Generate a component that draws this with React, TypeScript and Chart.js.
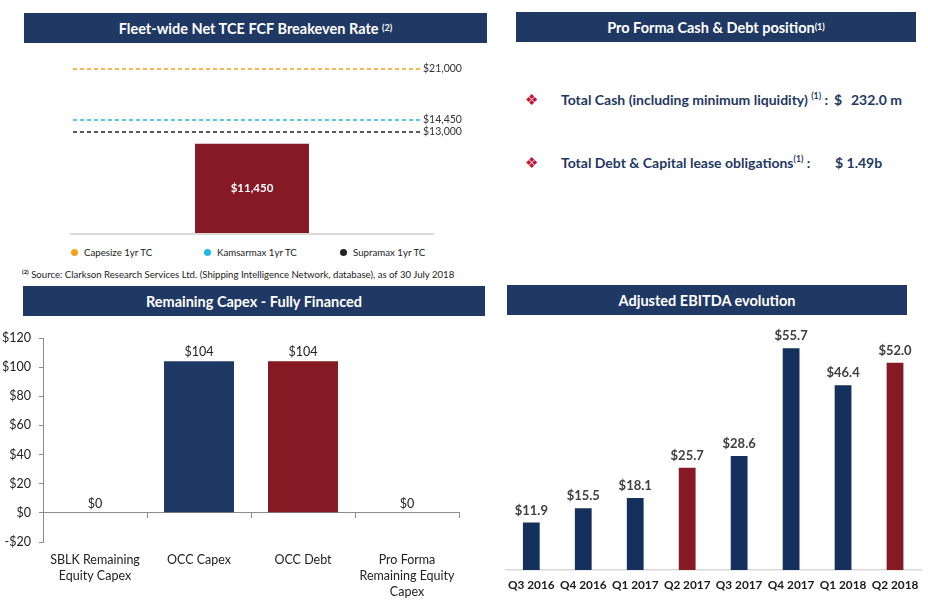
import React, { useEffect, useRef } from "react";
import { Chart, registerables } from "chart.js";

Chart.register(...registerables);

const FONT = "Lato, 'Open Sans', sans-serif";
const NAVY = "#1F3864";
const NAVY_BAR = "#14305C";
const RED = "#861A24";

// ---- Fleet-wide breakeven panel ----
const breakevenCategories = ["Fleet-wide"];
const breakevenValues = [11450];
const benchmarkNames = ["Capesize 1yr TC", "Kamsarmax 1yr TC", "Supramax 1yr TC"];
const benchmarkValues = [21000, 14450, 13000];
const benchmarkColors = ["#F7A01A", "#22B7EA", "#222222"];

// ---- Remaining Capex panel ----
const capexCategories = [
  ["SBLK Remaining", "Equity Capex"],
  "OCC Capex",
  "OCC Debt",
  ["Pro Forma", "Remaining Equity", "Capex"],
];
const capexValues = [0, 104, 104, 0];
const capexColors = [NAVY, NAVY, RED, NAVY];

// ---- Adjusted EBITDA panel ----
const ebitdaQuarters = ["Q3 2016", "Q4 2016", "Q1 2017", "Q2 2017", "Q3 2017", "Q4 2017", "Q1 2018", "Q2 2018"];
const ebitdaValues = [11.9, 15.5, 18.1, 25.7, 28.6, 55.7, 46.4, 52.0];
const ebitdaHighlight = [false, false, false, true, false, false, false, true];

function ChartBox({ left, top, width, height, makeConfig }: any) {
  const ref = useRef<HTMLCanvasElement | null>(null);
  useEffect(() => {
    if (!ref.current) return;
    const chart = new Chart(ref.current, makeConfig());
    return () => chart.destroy();
  }, []);
  return (
    <div style={{ position: "absolute", left, top, width, height }}>
      <canvas ref={ref} width={width} height={height} style={{ width, height, display: "block" }} />
    </div>
  );
}

const breakevenPlugin = {
  id: "breakevenLines",
  afterDatasetsDraw(chart: any) {
    const { ctx, chartArea, scales } = chart;
    const y0 = scales.y.getPixelForValue(0);
    ctx.save();
    ctx.strokeStyle = "#D9D9D9";
    ctx.lineWidth = 2;
    ctx.beginPath();
    ctx.moveTo(chartArea.left, y0 + 1);
    ctx.lineTo(chartArea.right, y0 + 1);
    ctx.stroke();
    benchmarkValues.forEach((v, i) => {
      const y = Math.round(scales.y.getPixelForValue(v));
      ctx.setLineDash([4, 3]);
      ctx.strokeStyle = benchmarkColors[i];
      ctx.lineWidth = 1.5;
      ctx.beginPath();
      ctx.moveTo(chartArea.left + 3, y);
      ctx.lineTo(chartArea.right - 14, y);
      ctx.stroke();
      ctx.setLineDash([]);
      ctx.fillStyle = "#333333";
      ctx.font = `10.5px ${FONT}`;
      ctx.textAlign = "left";
      ctx.textBaseline = "middle";
      ctx.fillText("$" + v.toLocaleString("en-US"), chartArea.right - 11, y);
    });
    const meta = chart.getDatasetMeta(0);
    meta.data.forEach((bar: any, i: number) => {
      ctx.fillStyle = "#FFFFFF";
      ctx.font = `bold 11.5px ${FONT}`;
      ctx.textAlign = "center";
      ctx.textBaseline = "middle";
      ctx.fillText("$" + breakevenValues[i].toLocaleString("en-US"), bar.x, (bar.y + bar.base) / 2);
    });
    ctx.restore();
  },
};

const capexLabelPlugin = {
  id: "capexLabels",
  afterDatasetsDraw(chart: any) {
    const { ctx } = chart;
    const meta = chart.getDatasetMeta(0);
    ctx.save();
    ctx.fillStyle = "#222222";
    ctx.font = `12.5px ${FONT}`;
    ctx.textAlign = "center";
    ctx.textBaseline = "bottom";
    meta.data.forEach((bar: any, i: number) => {
      ctx.fillText("$" + capexValues[i], bar.x, bar.y - 3);
    });
    ctx.restore();
  },
};

const ebitdaLabelPlugin = {
  id: "ebitdaLabels",
  afterDatasetsDraw(chart: any) {
    const { ctx } = chart;
    const meta = chart.getDatasetMeta(0);
    ctx.save();
    ctx.fillStyle = "#404040";
    ctx.font = `bold 13px ${FONT}`;
    ctx.textAlign = "center";
    ctx.textBaseline = "middle";
    meta.data.forEach((bar: any, i: number) => {
      ctx.fillText("$" + ebitdaValues[i].toFixed(1), bar.x, bar.y - 12);
    });
    ctx.restore();
  },
};

function breakevenConfig(): any {
  return {
    type: "bar",
    data: {
      labels: breakevenCategories,
      datasets: [
        {
          data: breakevenValues,
          backgroundColor: RED,
          barPercentage: 0.313,
          categoryPercentage: 1,
        },
      ],
    },
    options: {
      animation: false,
      responsive: false,
      layout: { padding: { left: 46, right: 53, top: 6, bottom: 7 } },
      plugins: { legend: { display: false }, tooltip: { enabled: false } },
      scales: {
        x: { display: false },
        y: { display: false, min: 0, max: 24000 },
      },
    },
    plugins: [breakevenPlugin],
  };
}

function capexConfig(): any {
  return {
    type: "bar",
    data: {
      labels: capexCategories,
      datasets: [
        {
          data: capexValues,
          backgroundColor: capexColors,
          barPercentage: 0.673,
          categoryPercentage: 1,
          xAxisID: "x",
          yAxisID: "y",
        },
      ],
    },
    options: {
      animation: false,
      responsive: false,
      layout: { padding: { left: 0, right: 16, top: 18, bottom: 0 } },
      plugins: { legend: { display: false }, tooltip: { enabled: false } },
      scales: {
        x: {
          type: "category",
          position: "bottom",
          grid: { display: false, drawTicks: false },
          border: { display: false },
          ticks: {
            color: "#222222",
            font: { family: FONT, size: 12.5, lineHeight: 1.28 },
            padding: 10,
            maxRotation: 0,
            autoSkip: false,
          },
          afterFit: (s: any) => {
            s.height = 65;
          },
        },
        x2: {
          type: "category",
          position: { y: 0 },
          grid: { offset: true, drawOnChartArea: false, drawTicks: true, tickLength: 5, color: "#8C8C8C" },
          border: { display: true, color: "#8C8C8C" },
          ticks: { display: false },
        },
        y: {
          min: -20,
          max: 120,
          grid: { drawOnChartArea: false, drawTicks: true, tickLength: 4, color: "#8C8C8C" },
          border: { display: true, color: "#8C8C8C" },
          ticks: {
            stepSize: 20,
            padding: 8,
            color: "#222222",
            font: { family: FONT, size: 12.5 },
            callback: (v: any) => (v < 0 ? "-$" + Math.abs(v) : "$" + v),
          },
          afterFit: (s: any) => {
            s.width = 43;
          },
        },
      },
    },
    plugins: [capexLabelPlugin],
  };
}

function ebitdaConfig(): any {
  return {
    type: "bar",
    data: {
      labels: ebitdaQuarters,
      datasets: [
        {
          data: ebitdaValues,
          backgroundColor: ebitdaHighlight.map((h) => (h ? RED : NAVY_BAR)),
          barPercentage: 0.323,
          categoryPercentage: 1,
        },
      ],
    },
    options: {
      animation: false,
      responsive: false,
      layout: { padding: { left: 0, right: 7, top: 11, bottom: 0 } },
      plugins: { legend: { display: false }, tooltip: { enabled: false } },
      scales: {
        x: {
          grid: { display: false, drawTicks: false },
          border: { display: true, color: "#D9D9D9", width: 1.5 },
          ticks: {
            color: "#1A1A1A",
            font: { family: FONT, size: 11.8, weight: "bold" },
            padding: 8,
            maxRotation: 0,
            autoSkip: false,
          },
          afterFit: (s: any) => {
            s.height = 37;
          },
        },
        y: { display: false, min: 0, max: 60 },
      },
    },
    plugins: [ebitdaLabelPlugin],
  };
}

function Header({ left, top, width, height, children }: any) {
  return (
    <div
      style={{
        position: "absolute",
        left,
        top,
        width,
        height,
        background: NAVY,
        color: "#FFFFFF",
        fontWeight: 700,
        fontSize: 14.5,
        display: "flex",
        alignItems: "center",
        justifyContent: "center",
        whiteSpace: "nowrap",
      }}
    >
      {children}
    </div>
  );
}

const sup: any = { fontSize: "0.62em", verticalAlign: "super", lineHeight: 0 };
const bullet: any = { position: "absolute", left: 525, color: "#C0143C", fontSize: 15, fontFamily: "DejaVu Sans", lineHeight: "18px" };
const infoText: any = { position: "absolute", color: NAVY, fontWeight: 700, fontSize: 14, whiteSpace: "nowrap", lineHeight: "18px" };

export default function App() {
  const legendX = [71, 204, 340];
  return (
    <div
      style={{
        position: "absolute",
        left: 0,
        top: 0,
        width: 928,
        height: 607,
        background: "#FFFFFF",
        overflow: "hidden",
        fontFamily: FONT,
      }}
    >
      <Header left={24} top={13} width={463} height={30}>
        Fleet-wide Net TCE FCF Breakeven Rate&nbsp;<span style={sup}>(2)</span>
      </Header>
      <Header left={516} top={12} width={400} height={30}>
        Pro Forma Cash &amp; Debt position<span style={sup}>(1)</span>
      </Header>
      <Header left={23} top={286} width={462} height={30}>
        Remaining Capex - Fully Financed
      </Header>
      <Header left={507} top={285} width={400} height={30}>
        Adjusted EBITDA evolution
      </Header>

      <ChartBox left={24} top={40} width={463} height={200} makeConfig={breakevenConfig} />

      {benchmarkNames.map((name, i) => (
        <div
          key={name}
          style={{
            position: "absolute",
            left: legendX[i],
            top: 245,
            height: 14,
            display: "flex",
            alignItems: "center",
            fontSize: 9.7,
            color: "#222222",
            whiteSpace: "nowrap",
          }}
        >
          <span
            style={{
              display: "inline-block",
              width: 7,
              height: 7,
              borderRadius: "50%",
              background: benchmarkColors[i],
              marginRight: 6,
            }}
          />
          {name}
        </div>
      ))}

      <div
        style={{
          position: "absolute",
          left: 22,
          top: 269,
          fontSize: 9.6,
          color: "#222222",
          whiteSpace: "nowrap",
        }}
      >
        <span style={{ ...sup, fontWeight: 700 }}>(2)</span> Source: Clarkson Research Services Ltd. (Shipping
        Intelligence Network, database), as of 30 July 2018
      </div>

      <div style={{ ...bullet, top: 91 }}>❖</div>
      <div style={{ ...bullet, top: 154 }}>❖</div>
      <div style={{ ...infoText, left: 561, top: 91 }}>
        Total Cash (including minimum liquidity) <span style={sup}>(1)</span> :
      </div>
      <div style={{ ...infoText, left: 834, top: 91 }}>$</div>
      <div style={{ ...infoText, left: 851, top: 91 }}>232.0 m</div>
      <div style={{ ...infoText, left: 561, top: 154 }}>
        Total Debt &amp; Capital lease obligations<span style={sup}>(1)</span> :
      </div>
      <div style={{ ...infoText, left: 835, top: 154 }}>$ 1.49b</div>

      <ChartBox left={0} top={320} width={475} height={287} makeConfig={capexConfig} />
      <ChartBox left={500} top={320} width={428} height={287} makeConfig={ebitdaConfig} />
    </div>
  );
}
